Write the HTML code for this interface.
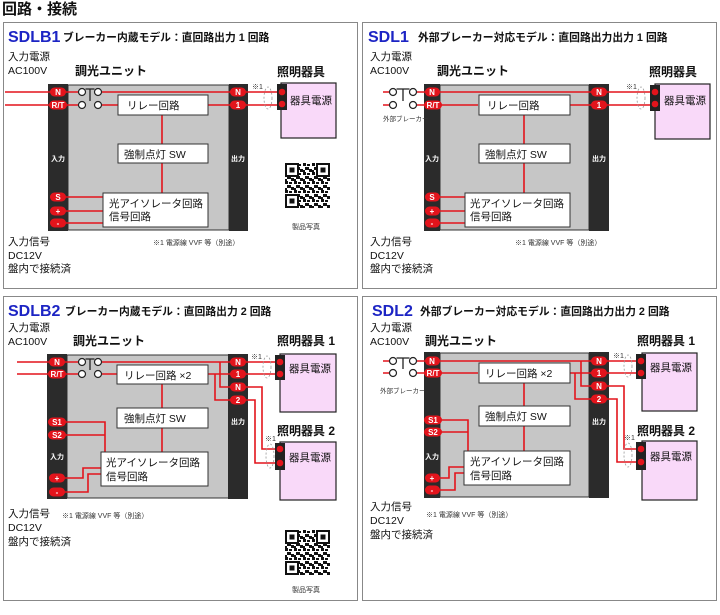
<!DOCTYPE html>
<html><head><meta charset="utf-8"><style>
html,body{margin:0;padding:0;background:#fff;width:720px;height:615px;overflow:hidden}
svg{display:block;font-family:"Liberation Sans","Noto Sans CJK JP",sans-serif}
.t{font-size:10.5px;fill:#111}
.b{font-weight:bold;fill:#111}
.ttl{font-size:16px;font-weight:bold;fill:#1c24c4}
.sub{font-size:10.8px;font-weight:bold;fill:#111}
.r{stroke:#e3141c;stroke-width:1.6;fill:none}
.pw{font-size:8px;font-weight:bold;fill:#fff;text-anchor:middle}
.bx{fill:#fff;stroke:#333;stroke-width:1}
.s{font-size:7px;fill:#333}
.bar{fill:#2b2b2b}
.body{fill:#c6c6c6;stroke:#333;stroke-width:1}
.lt{fill:#f9d9f9;stroke:#222;stroke-width:1.2}
.dash{fill:none;stroke:#999;stroke-width:.8;stroke-dasharray:2 2}
.sw{fill:#fff;stroke:#222;stroke-width:1.2}
.swl{stroke:#222;stroke-width:1.3;fill:none}
</style></head><body>
<svg width="720" height="615" viewBox="0 0 720 615">
<defs>
<pattern id="qp" width="9" height="9" patternUnits="userSpaceOnUse">
<rect width="9" height="9" fill="#fff"/><rect x="0" y="0" width="3" height="3" fill="#111"/><rect x="4" y="1" width="3" height="2" fill="#111"/><rect x="2" y="4" width="4" height="3" fill="#111"/><rect x="6" y="6" width="3" height="3" fill="#111"/><rect x="0" y="7" width="2" height="2" fill="#111"/>
</pattern>
<g id="qr">
<rect x="0" y="0" width="45" height="45" fill="url(#qp)"/>
<rect x="1" y="1" width="12" height="12" fill="#fff" stroke="#111" stroke-width="2"/><rect x="4.5" y="4.5" width="5" height="5" fill="#111"/>
<rect x="32" y="1" width="12" height="12" fill="#fff" stroke="#111" stroke-width="2"/><rect x="35.5" y="4.5" width="5" height="5" fill="#111"/>
<rect x="1" y="32" width="12" height="12" fill="#fff" stroke="#111" stroke-width="2"/><rect x="4.5" y="35.5" width="5" height="5" fill="#111"/>
</g>
</defs>

<text x="2" y="14" style="font-size:15px;font-weight:bold;fill:#111">回路・接続</text>

<!-- ===== Panel SDLB1 ===== -->
<rect x="3.5" y="22.5" width="354" height="266" fill="#fff" stroke="#888"/>
<text x="8" y="42" class="ttl">SDLB1</text>
<text x="63" y="41" class="sub">ブレーカー内蔵モデル：直回路出力 1 回路</text>
<text x="8" y="60" class="t">入力電源</text>
<text x="8" y="74" class="t">AC100V</text>
<text x="75" y="75" class="b" style="font-size:12px">調光ユニット</text>
<text x="277" y="76" class="b" style="font-size:12px">照明器具</text>
<rect x="68" y="85" width="161" height="145" class="body"/>
<rect x="48" y="84" width="20" height="147" class="bar"/>
<rect x="229" y="84" width="19" height="147" class="bar"/>
<text x="58" y="161" class="pw" style="font-size:7px">入力</text>
<text x="238" y="161" class="pw" style="font-size:7px">出力</text>
<path class="r" d="M5 92H78M102 92H285M5 105H78M102 105H118M208 105H285M162 115V144M162 163V193M58 197H103M58 211H103M58 223H103"/>
<circle cx="82" cy="92" r="3.5" class="sw"/><circle cx="98" cy="92" r="3.5" class="sw"/>
<circle cx="82" cy="105" r="3.5" class="sw"/><circle cx="98" cy="105" r="3.5" class="sw"/>
<path class="swl" d="M85.5 89H94.5M90 89V101"/>
<rect x="118" y="95" width="90" height="20" class="bx"/><text x="127" y="109" class="t">リレー回路</text>
<rect x="118" y="144" width="90" height="19" class="bx"/><text x="124" y="158" class="t">強制点灯 SW</text>
<rect x="103" y="193" width="105" height="34" class="bx"/><text x="109" y="207" class="t">光アイソレータ回路</text><text x="109" y="220" class="t">信号回路</text>
<rect x="50" y="87.5" width="16" height="9" rx="4.5" fill="#e3141c"/><text x="58" y="95" class="pw">N</text>
<rect x="49" y="100.5" width="18" height="9" rx="4.5" fill="#e3141c"/><text x="58" y="108" class="pw">R/T</text>
<rect x="50" y="192.5" width="16" height="9" rx="4.5" fill="#e3141c"/><text x="58" y="200" class="pw">S</text>
<rect x="50" y="206.5" width="16" height="9" rx="4.5" fill="#e3141c"/><text x="58" y="214" class="pw">+</text>
<rect x="50" y="218.5" width="16" height="9" rx="4.5" fill="#e3141c"/><text x="58" y="226" class="pw">-</text>
<rect x="230" y="87.5" width="16" height="9" rx="4.5" fill="#e3141c"/><text x="238" y="95" class="pw">N</text>
<rect x="230" y="100.5" width="16" height="9" rx="4.5" fill="#e3141c"/><text x="238" y="108" class="pw">1</text>
<rect x="281" y="83" width="55" height="55" class="lt"/>
<rect x="277" y="84" width="10" height="26" fill="#222"/>
<circle cx="282" cy="92" r="3.3" fill="#e3141c"/><circle cx="282" cy="104" r="3.3" fill="#e3141c"/>
<text x="290" y="104" class="t">器具電源</text>
<ellipse cx="268" cy="98" rx="4" ry="11" class="dash"/><text x="252" y="89" class="s">※1</text>
<use href="#qr" x="285" y="163"/>
<text x="292" y="229" class="s">製品写真</text>
<text x="153" y="245" class="s">※1 電源線 VVF 等（別途）</text>
<text x="8" y="245" class="t">入力信号</text>
<text x="8" y="259" class="t">DC12V</text>
<text x="8" y="272" class="t">盤内で接続済</text>

<!-- ===== Panel SDL1 ===== -->
<rect x="362.5" y="22.5" width="354" height="266" fill="#fff" stroke="#888"/>
<text x="368" y="42" class="ttl">SDL1</text>
<text x="418" y="41" class="sub">外部ブレーカー対応モデル：直回路出力出力 1 回路</text>
<text x="370" y="60" class="t">入力電源</text>
<text x="370" y="74" class="t">AC100V</text>
<text x="437" y="75" class="b" style="font-size:12px">調光ユニット</text>
<text x="649" y="76" class="b" style="font-size:12px">照明器具</text>
<rect x="440" y="85" width="149" height="145" class="body"/>
<rect x="424" y="84" width="16" height="147" class="bar"/>
<rect x="589" y="84" width="20" height="147" class="bar"/>
<text x="432" y="161" class="pw" style="font-size:7px">入力</text>
<text x="599" y="161" class="pw" style="font-size:7px">出力</text>
<path class="r" d="M383 92H389M417 92H657M383 105H389M417 105H478M570 105H657M524 115V144M524 163V193M432 197H465M432 211H465M432 223H465"/>
<circle cx="393" cy="92" r="3.5" class="sw"/><circle cx="413" cy="92" r="3.5" class="sw"/>
<circle cx="393" cy="105" r="3.5" class="sw"/><circle cx="413" cy="105" r="3.5" class="sw"/>
<path class="swl" d="M396.5 89H409.5M403 89V101"/>
<text x="383" y="121" class="s" style="font-size:6.5px">外部ブレーカー</text>
<rect x="479" y="95" width="91" height="20" class="bx"/><text x="487" y="109" class="t">リレー回路</text>
<rect x="479" y="144" width="91" height="19" class="bx"/><text x="485" y="158" class="t">強制点灯 SW</text>
<rect x="465" y="193" width="105" height="34" class="bx"/><text x="470" y="207" class="t">光アイソレータ回路</text><text x="470" y="220" class="t">信号回路</text>
<rect x="425" y="87.5" width="15" height="9" rx="4.5" fill="#e3141c"/><text x="432" y="95" class="pw">N</text>
<rect x="424" y="100.5" width="18" height="9" rx="4.5" fill="#e3141c"/><text x="433" y="108" class="pw">R/T</text>
<rect x="425" y="192.5" width="15" height="9" rx="4.5" fill="#e3141c"/><text x="432" y="200" class="pw">S</text>
<rect x="425" y="206.5" width="15" height="9" rx="4.5" fill="#e3141c"/><text x="432" y="214" class="pw">+</text>
<rect x="425" y="218.5" width="15" height="9" rx="4.5" fill="#e3141c"/><text x="432" y="226" class="pw">-</text>
<rect x="591" y="87.5" width="16" height="9" rx="4.5" fill="#e3141c"/><text x="599" y="95" class="pw">N</text>
<rect x="591" y="100.5" width="16" height="9" rx="4.5" fill="#e3141c"/><text x="599" y="108" class="pw">1</text>
<rect x="655" y="84" width="55" height="55" class="lt"/>
<rect x="650" y="85" width="10" height="26" fill="#222"/>
<circle cx="655" cy="92" r="3.3" fill="#e3141c"/><circle cx="655" cy="104" r="3.3" fill="#e3141c"/>
<text x="664" y="104" class="t">器具電源</text>
<ellipse cx="641" cy="98" rx="4" ry="11" class="dash"/><text x="626" y="89" class="s">※1</text>
<text x="515" y="245" class="s">※1 電源線 VVF 等（別途）</text>
<text x="370" y="245" class="t">入力信号</text>
<text x="370" y="259" class="t">DC12V</text>
<text x="370" y="272" class="t">盤内で接続済</text>

<!-- ===== Panel SDLB2 ===== -->
<rect x="3.5" y="296.5" width="354" height="304" fill="#fff" stroke="#888"/>
<text x="8" y="316" class="ttl">SDLB2</text>
<text x="65" y="315" class="sub">ブレーカー内蔵モデル：直回路出力 2 回路</text>
<text x="8" y="331" class="t">入力電源</text>
<text x="8" y="345" class="t">AC100V</text>
<text x="73" y="345" class="b" style="font-size:12px">調光ユニット</text>
<text x="277" y="345" class="b" style="font-size:12px">照明器具 1</text>
<text x="277" y="435" class="b" style="font-size:12px">照明器具 2</text>
<rect x="67" y="355" width="162" height="143" class="body"/>
<rect x="47" y="354" width="20" height="145" class="bar"/>
<rect x="228" y="354" width="20" height="145" class="bar"/>
<text x="57" y="459" class="pw" style="font-size:7px">入力</text>
<text x="238" y="424" class="pw" style="font-size:7px">出力</text>
<path class="r" d="M17 362H78M102 362H284M17 374H78M102 374H117M208 374H284M215 374V400H232M220 362V387H232M238 387H262V449H284M238 400H255V463H284M162 384V408M162 428V452M57 422H105V452M57 435H105M57 478H83V468H101M57 492H88V474H101"/>
<circle cx="82" cy="362" r="3.5" class="sw"/><circle cx="98" cy="362" r="3.5" class="sw"/>
<circle cx="82" cy="374" r="3.5" class="sw"/><circle cx="98" cy="374" r="3.5" class="sw"/>
<path class="swl" d="M85.5 359H94.5M90 359V370"/>
<rect x="117" y="365" width="91" height="19" class="bx"/><text x="124" y="379" class="t">リレー回路 ×2</text>
<rect x="117" y="408" width="91" height="20" class="bx"/><text x="124" y="422" class="t">強制点灯 SW</text>
<rect x="101" y="452" width="107" height="34" class="bx"/><text x="106" y="466" class="t">光アイソレータ回路</text><text x="106" y="480" class="t">信号回路</text>
<rect x="49" y="357.5" width="16" height="9" rx="4.5" fill="#e3141c"/><text x="57" y="365" class="pw">N</text>
<rect x="48" y="369.5" width="18" height="9" rx="4.5" fill="#e3141c"/><text x="57" y="377" class="pw">R/T</text>
<rect x="48" y="417.5" width="18" height="9" rx="4.5" fill="#e3141c"/><text x="57" y="425" class="pw">S1</text>
<rect x="48" y="430.5" width="18" height="9" rx="4.5" fill="#e3141c"/><text x="57" y="438" class="pw">S2</text>
<rect x="49" y="473.5" width="16" height="9" rx="4.5" fill="#e3141c"/><text x="57" y="481" class="pw">+</text>
<rect x="49" y="487.5" width="16" height="9" rx="4.5" fill="#e3141c"/><text x="57" y="495" class="pw">-</text>
<rect x="230" y="357.5" width="16" height="9" rx="4.5" fill="#e3141c"/><text x="238" y="365" class="pw">N</text>
<rect x="230" y="369.5" width="16" height="9" rx="4.5" fill="#e3141c"/><text x="238" y="377" class="pw">1</text>
<rect x="230" y="382.5" width="16" height="9" rx="4.5" fill="#e3141c"/><text x="238" y="390" class="pw">N</text>
<rect x="230" y="395.5" width="16" height="9" rx="4.5" fill="#e3141c"/><text x="238" y="403" class="pw">2</text>
<rect x="280" y="354" width="56" height="58" class="lt"/>
<rect x="275" y="355" width="10" height="25" fill="#222"/>
<circle cx="280" cy="362" r="3.3" fill="#e3141c"/><circle cx="280" cy="374" r="3.3" fill="#e3141c"/>
<text x="289" y="372" class="t">器具電源</text>
<ellipse cx="267" cy="367" rx="4" ry="11" class="dash"/><text x="251" y="359" class="s">※1</text>
<rect x="280" y="442" width="56" height="58" class="lt"/>
<rect x="275" y="443" width="10" height="27" fill="#222"/>
<circle cx="280" cy="449" r="3.3" fill="#e3141c"/><circle cx="280" cy="463" r="3.3" fill="#e3141c"/>
<text x="289" y="461" class="t">器具電源</text>
<ellipse cx="270" cy="456" rx="4" ry="12" class="dash"/><text x="265" y="441" class="s">※1</text>
<text x="62" y="518" class="s">※1 電源線 VVF 等（別途）</text>
<text x="8" y="517" class="t">入力信号</text>
<text x="8" y="531" class="t">DC12V</text>
<text x="8" y="545" class="t">盤内で接続済</text>
<use href="#qr" x="285" y="530"/>
<text x="292" y="592" class="s">製品写真</text>

<!-- ===== Panel SDL2 ===== -->
<rect x="362.5" y="296.5" width="354" height="304" fill="#fff" stroke="#888"/>
<text x="372" y="316" class="ttl">SDL2</text>
<text x="420" y="315" class="sub">外部ブレーカー対応モデル：直回路出力出力 2 回路</text>
<text x="370" y="331" class="t">入力電源</text>
<text x="370" y="345" class="t">AC100V</text>
<text x="425" y="345" class="b" style="font-size:12px">調光ユニット</text>
<text x="637" y="345" class="b" style="font-size:12px">照明器具 1</text>
<text x="637" y="435" class="b" style="font-size:12px">照明器具 2</text>
<rect x="440" y="353" width="149" height="144" class="body"/>
<rect x="424" y="352" width="16" height="146" class="bar"/>
<rect x="589" y="352" width="20" height="146" class="bar"/>
<text x="432" y="459" class="pw" style="font-size:7px">入力</text>
<text x="599" y="424" class="pw" style="font-size:7px">出力</text>
<path class="r" d="M383 361H389M417 361H643M383 373H389M417 373H478M570 373H643M575 373V399H593M581 361V386H593M605 386H624V449H643M605 399H617V462H643M524 383V406M524 426V451M432 420H468V451M432 432H468M432 478H449V467H464M432 490H455V473H464"/>
<circle cx="393" cy="361" r="3.5" class="sw"/><circle cx="413" cy="361" r="3.5" class="sw"/>
<circle cx="393" cy="373" r="3.5" class="sw"/><circle cx="413" cy="373" r="3.5" class="sw"/>
<path class="swl" d="M396.5 358H409.5M403 358V369"/>
<text x="380" y="393" class="s" style="font-size:6.5px">外部ブレーカー</text>
<rect x="479" y="363" width="91" height="20" class="bx"/><text x="485" y="377" class="t">リレー回路 ×2</text>
<rect x="479" y="406" width="91" height="20" class="bx"/><text x="485" y="420" class="t">強制点灯 SW</text>
<rect x="464" y="451" width="106" height="34" class="bx"/><text x="470" y="465" class="t">光アイソレータ回路</text><text x="470" y="479" class="t">信号回路</text>
<rect x="425" y="356.5" width="15" height="9" rx="4.5" fill="#e3141c"/><text x="432" y="364" class="pw">N</text>
<rect x="424" y="368.5" width="18" height="9" rx="4.5" fill="#e3141c"/><text x="433" y="376" class="pw">R/T</text>
<rect x="424" y="415.5" width="18" height="9" rx="4.5" fill="#e3141c"/><text x="433" y="423" class="pw">S1</text>
<rect x="424" y="427.5" width="18" height="9" rx="4.5" fill="#e3141c"/><text x="433" y="435" class="pw">S2</text>
<rect x="425" y="473.5" width="15" height="9" rx="4.5" fill="#e3141c"/><text x="432" y="481" class="pw">+</text>
<rect x="425" y="485.5" width="15" height="9" rx="4.5" fill="#e3141c"/><text x="432" y="493" class="pw">-</text>
<rect x="591" y="356.5" width="16" height="9" rx="4.5" fill="#e3141c"/><text x="599" y="364" class="pw">N</text>
<rect x="591" y="368.5" width="16" height="9" rx="4.5" fill="#e3141c"/><text x="599" y="376" class="pw">1</text>
<rect x="591" y="381.5" width="16" height="9" rx="4.5" fill="#e3141c"/><text x="599" y="389" class="pw">N</text>
<rect x="591" y="394.5" width="16" height="9" rx="4.5" fill="#e3141c"/><text x="599" y="402" class="pw">2</text>
<rect x="642" y="353" width="55" height="58" class="lt"/>
<rect x="636" y="354" width="10" height="25" fill="#222"/>
<circle cx="641" cy="361" r="3.3" fill="#e3141c"/><circle cx="641" cy="373" r="3.3" fill="#e3141c"/>
<text x="650" y="371" class="t">器具電源</text>
<ellipse cx="628" cy="366" rx="4" ry="11" class="dash"/><text x="613" y="358" class="s">※1</text>
<rect x="642" y="441" width="55" height="59" class="lt"/>
<rect x="636" y="442" width="10" height="28" fill="#222"/>
<circle cx="641" cy="449" r="3.3" fill="#e3141c"/><circle cx="641" cy="462" r="3.3" fill="#e3141c"/>
<text x="650" y="460" class="t">器具電源</text>
<ellipse cx="628" cy="455" rx="4" ry="12" class="dash"/><text x="624" y="440" class="s">※1</text>
<text x="426" y="517" class="s">※1 電源線 VVF 等（別途）</text>
<text x="370" y="510" class="t">入力信号</text>
<text x="370" y="524" class="t">DC12V</text>
<text x="370" y="538" class="t">盤内で接続済</text>
</svg>
</body></html>
